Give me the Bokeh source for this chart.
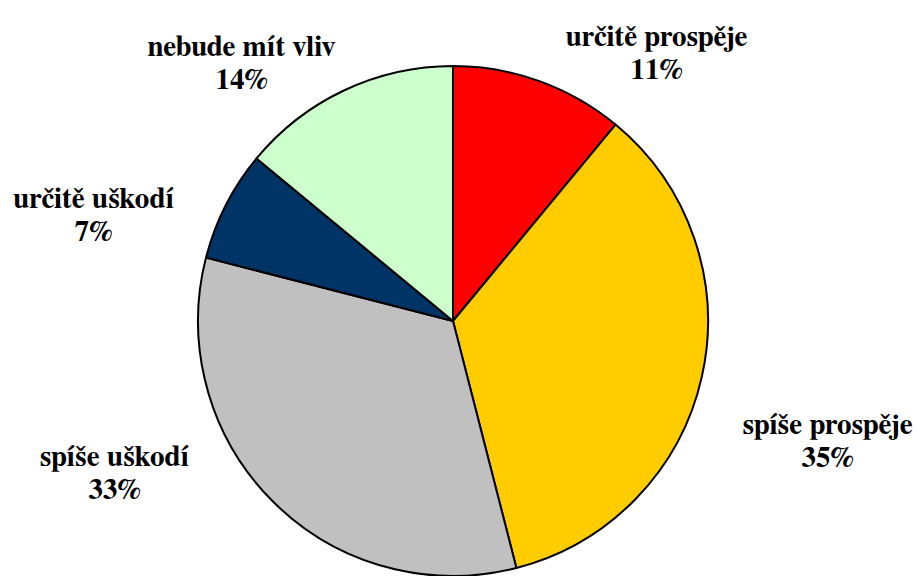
import math
from bokeh.plotting import figure
from bokeh.models import Range1d, ColumnDataSource
from bokeh.core.properties import value
from bokeh.embed import file_html
from bokeh.resources import INLINE

# ---- data ----
categories = ["určitě prospěje", "spíše prospěje", "spíše uškodí", "určitě uškodí", "nebude mít vliv"]
shares = [11, 35, 33, 7, 14]
colors = ["#FF0000", "#FFCC00", "#C0C0C0", "#003366", "#CCFFCC"]

# ---- layout (picture pixel coordinates) ----
W, H = 917, 576
cx, cy, R = 452.5, 320.5, 255
label_x = [656, 827, 114, 93, 241]
label_pct_baseline = [70, 458, 490, 232, 80]
line_gap = 33

total = float(sum(shares))
starts, ends = [], []
cum = 0.0
for v in shares:
    starts.append(math.pi / 2 - 2 * math.pi * cum / total)
    cum += v
    ends.append(math.pi / 2 - 2 * math.pi * cum / total)

p = figure(width=W, height=H, output_backend="svg", toolbar_location=None,
           x_range=Range1d(0, W), y_range=Range1d(-H, 0),
           min_border=0, outline_line_color=None)
p.xaxis.visible = False
p.yaxis.visible = False
p.grid.visible = False

src = ColumnDataSource(dict(start=starts, end=ends, color=colors, cat=categories))
p.wedge(x=cx, y=-cy, radius=R, start_angle="start", end_angle="end",
        direction="clock", fill_color="color", line_color="black", line_width=2,
        source=src)

name_src = ColumnDataSource(dict(x=label_x, y=[-(b - line_gap) for b in label_pct_baseline],
                                 t=categories))
pct_src = ColumnDataSource(dict(x=label_x, y=[-b for b in label_pct_baseline],
                                t=[f"{v}%" for v in shares]))
for s in (name_src, pct_src):
    p.text(x="x", y="y", text="t", source=s,
           text_font=value("Nimbus Roman, FreeSerif, DejaVu Serif Condensed, Liberation Sans"),
           text_font_style="bold", text_font_size="29px", text_align="center",
           text_baseline="alphabetic", text_color="black")

open("out.html", "w").write(file_html(p, INLINE))
